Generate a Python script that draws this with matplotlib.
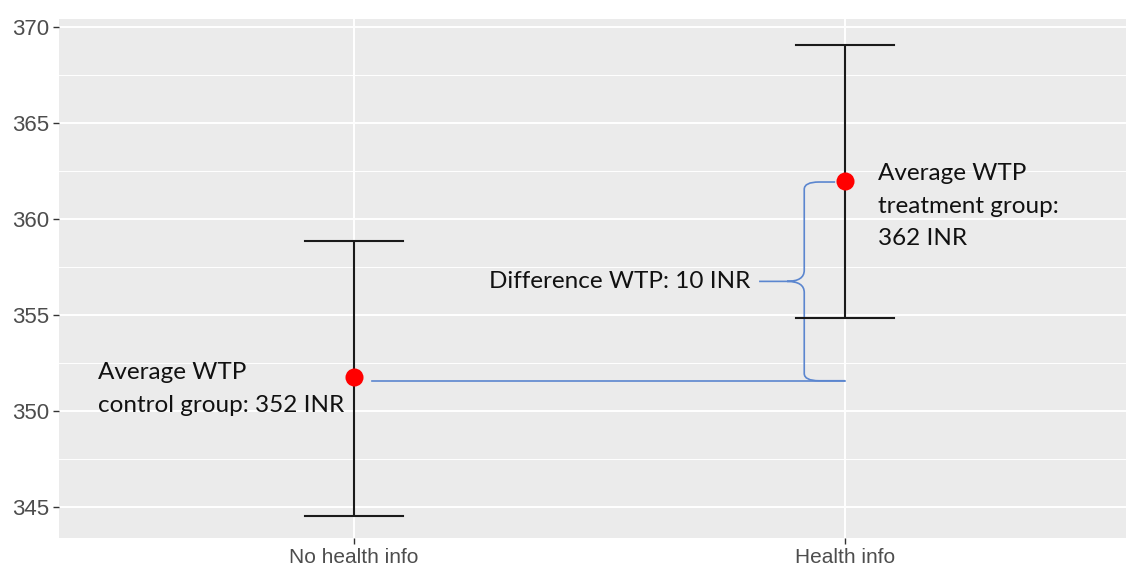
import matplotlib
matplotlib.use("Agg")
import matplotlib.pyplot as plt
from matplotlib.path import Path
from matplotlib.patches import PathPatch

# ---- data ----
categories = ["No health info", "Health info"]
means = [351.75, 362.0]
lower = [344.55, 354.85]
upper = [358.85, 369.05]
yticks = [345, 350, 355, 360, 365, 370]
ann_control = "Average WTP\ncontrol group: 352 INR"
ann_treat = "Average WTP\ntreatment group:\n362 INR"
ann_diff = "Difference WTP: 10 INR"

W, H, DPI = 1126, 570, 100
fig = plt.figure(figsize=(W / DPI, H / DPI), dpi=DPI)
fig.patch.set_facecolor("white")

# panel extends past right edge (image is cropped like the reference)
left_px, right_px, top_px, bot_px = 59.4, 1139.6, 19, 538
ax = fig.add_axes([left_px / W, (H - bot_px) / H,
                   (right_px - left_px) / W, (bot_px - top_px) / H])
ax.set_facecolor("#EBEBEB")
for s in ax.spines.values():
    s.set_visible(False)

xs = [1, 2]
ax.set_xlim(0.4, 2.6)
ax.set_ylim(343.39, 370.42)

# grid
ax.set_yticks(yticks)
ax.set_yticks([347.5, 352.5, 357.5, 362.5, 367.5], minor=True)
ax.set_xticks(xs)
ax.set_xticklabels(categories)
ax.grid(which="major", color="white", linewidth=1.4, zorder=0)
ax.grid(which="minor", axis="y", color="white", linewidth=0.7, zorder=0)
ax.set_axisbelow(True)
ax.tick_params(axis="both", which="major", length=4, width=1.0, color="#333333",
               labelcolor="#4D4D4D", pad=3)
ax.tick_params(axis="x", labelsize=15)
ax.tick_params(axis="y", labelsize=16)
ax.tick_params(axis="both", which="minor", length=0)
for lab in ax.get_xticklabels() + ax.get_yticklabels():
    lab.set_fontfamily("Liberation Sans")

# error bars
cap = 0.1
for x, lo, hi in zip(xs, lower, upper):
    ax.plot([x, x], [lo, hi], color="#1A1A1A", lw=1.5, zorder=3, solid_capstyle="butt")
    ax.plot([x - cap, x + cap], [lo, lo], color="#1A1A1A", lw=1.5, zorder=3)
    ax.plot([x - cap, x + cap], [hi, hi], color="#1A1A1A", lw=1.5, zorder=3)

# blue annotation: horizontal line and curly brace
blue = "#5B86CF"
lo_y = means[0] - 0.17
hi_y = means[1] - 0.07
ax.plot([xs[0] + 0.037, xs[1]], [lo_y, lo_y], color=blue, lw=1.2, zorder=2)

xv = xs[1] - 0.083
xtip = xs[1] - 0.175
mid = (lo_y + hi_y) / 2
r_end = 0.38
r_mid = 0.58
verts = [
    (xs[1], lo_y),
    (xv + 0.03, lo_y),
    (xv, lo_y), (xv, lo_y + r_end),
    (xv, mid - r_mid),
    (xv, mid), (xv - 0.035, mid),
    (xtip, mid),
    (xv - 0.035, mid),
    (xv, mid), (xv, mid + r_mid),
    (xv, hi_y - r_end),
    (xv, hi_y), (xv + 0.03, hi_y),
    (xs[1] - 0.02, hi_y),
]
codes = [Path.MOVETO, Path.LINETO,
         Path.CURVE3, Path.CURVE3,
         Path.LINETO,
         Path.CURVE3, Path.CURVE3,
         Path.LINETO,
         Path.MOVETO,
         Path.CURVE3, Path.CURVE3,
         Path.LINETO,
         Path.CURVE3, Path.CURVE3,
         Path.LINETO]
ax.add_patch(PathPatch(Path(verts, codes), fill=False, edgecolor=blue, lw=1.2, zorder=2))

# points
ax.plot(xs, means, "o", color="#FF0000", markersize=13, markeredgewidth=0, zorder=4)

# text annotations
fam = ["Lato", "DejaVu Sans"]
fs = 17.5
ax.text(0.479, 351.15, ann_control, ha="left", va="center", fontsize=fs,
        family=fam, color="#111111", linespacing=1.68, zorder=5)
ax.text(2.067, 360.68, ann_treat, ha="left", va="center", fontsize=fs,
        family=fam, color="#111111", linespacing=1.68, zorder=5)
ax.text(1.8065, mid, ann_diff, ha="right", va="center", fontsize=fs,
        family=fam, color="#111111", zorder=5)

fig.savefig("out.png", dpi=DPI)
